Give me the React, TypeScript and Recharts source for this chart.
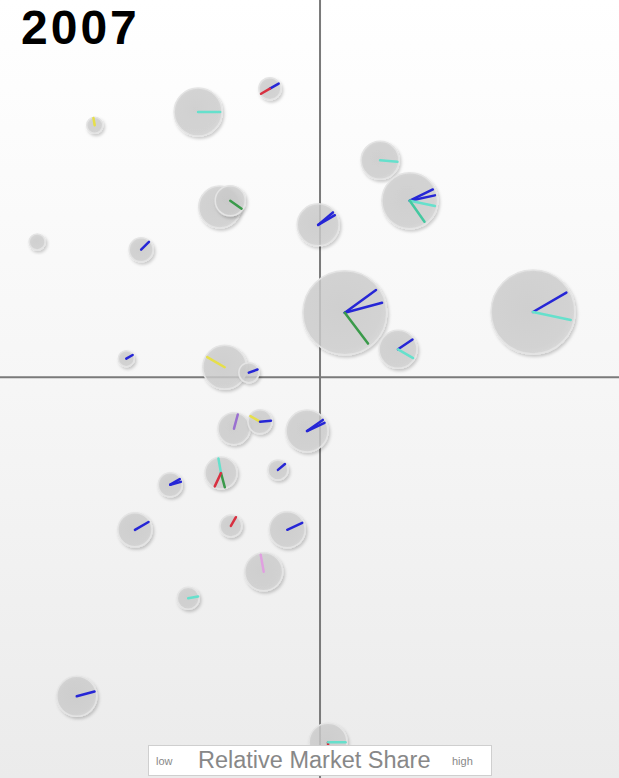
import React from "react";
import { ScatterChart, Scatter, XAxis, YAxis, ZAxis, ReferenceLine } from "recharts";

// relative market share (x), market growth (y), sales (bubble area)
const share = [43.6, 32.0, 15.3, 61.4, 66.2, 35.5, 37.2, 51.4, 6.0, 22.8, 55.7, 86.1, 64.3, 20.4, 36.3, 40.2, 37.8, 42.0, 49.6, 35.7, 44.9, 27.5, 21.8, 37.3, 46.4, 42.6, 30.4, 12.4, 53.0];
const growth = [88.6, 85.6, 83.9, 79.4, 74.2, 73.4, 74.2, 71.1, 68.9, 67.9, 59.8, 59.9, 55.1, 53.9, 52.8, 52.1, 44.9, 45.8, 44.6, 39.2, 39.6, 37.7, 31.9, 32.4, 31.9, 26.5, 23.1, 10.5, 4.6];
const sales = [6.1, 28.8, 3.2, 18, 39, 22, 11.3, 22, 3.2, 7.2, 88, 88, 18, 3.2, 24, 5, 12.8, 7.2, 22, 12.8, 5, 7.2, 14.5, 6, 16.2, 18, 6, 20, 18];
// product lines inside each unit: [angle in degrees, colour code]
const hands: [number, string][][] = [
  [[30, "B"], [210, "R"]],
  [[0, "C"]],
  [[100, "Y"]],
  [[-5, "C"]],
  [[26, "B"], [12, "B"], [-12, "C"], [-55, "T"]],
  [],
  [[-35, "G"]],
  [[30, "B"], [40, "B"]],
  [],
  [[45, "B"]],
  [[36, "B"], [15, "B"], [-53, "G"]],
  [[30, "B"], [-12, "C"]],
  [[34, "B"], [-30, "C"]],
  [[30, "B"]],
  [[150, "Y"]],
  [[20, "B"]],
  [[75, "P"]],
  [[150, "Y"], [5, "B"]],
  [[25, "B"], [35, "B"]],
  [[-75, "G"], [100, "C"], [-115, "R"]],
  [[40, "B"]],
  [[30, "B"], [15, "B"]],
  [[30, "B"]],
  [[60, "R"]],
  [[25, "B"]],
  [[100, "K"]],
  [[10, "C"]],
  [[15, "B"]],
  [[-90, "R"], [0, "C"]],
];

const INK: Record<string, string> = {
  B: "#2626d6",
  C: "#66e0cc",
  T: "#44c8a0",
  G: "#3a9a4a",
  R: "#d83040",
  Y: "#e6df4a",
  P: "#9a70d0",
  K: "#e0a0e0",
};

const units = share.map((x, i) => ({ x, y: growth[i], z: sales[i], hands: hands[i] }));

function Bubble(props: any) {
  const { cx, cy, width, payload } = props;
  const r = width / 2;
  return (
    <g>
      <circle cx={cx} cy={cy} r={r} fill="url(#bub)" stroke="#e4e4e4" strokeWidth={1.5} fillOpacity={0.8} filter="url(#shade)" />
      {payload.hands.map(([a, c]: [number, string], i: number) => {
        const t = (a * Math.PI) / 180;
        return (
          <line
            key={i}
            x1={cx}
            y1={cy}
            x2={cx + Math.cos(t) * r * 0.92}
            y2={cy - Math.sin(t) * r * 0.92}
            stroke={INK[c]}
            strokeWidth={2.5}
            strokeLinecap="round"
          />
        );
      })}
    </g>
  );
}

export default function App() {
  return (
    <div
      style={{
        position: "absolute",
        left: 0,
        top: 0,
        width: 619,
        height: 778,
        overflow: "hidden",
        background: "linear-gradient(#ffffff, #f6f6f6 50%, #ebebeb)",
        fontFamily: "Arial, 'Liberation Sans', sans-serif",
      }}
    >
      <svg width={0} height={0} style={{ position: "absolute" }}>
        <defs>
          <radialGradient id="bub" cx="45%" cy="45%" r="60%">
            <stop offset="0%" stopColor="#cbcbcb" />
            <stop offset="80%" stopColor="#cfcfcf" />
            <stop offset="100%" stopColor="#d8d8d8" />
          </radialGradient>
          <filter id="shade" x="-30%" y="-30%" width="160%" height="160%">
            <feDropShadow dx={1.5} dy={2} stdDeviation={1.5} floodColor="#000" floodOpacity={0.22} />
          </filter>
        </defs>
      </svg>
      <ScatterChart width={619} height={778} margin={{ top: 0, right: 0, bottom: 0, left: 0 }}>
        <XAxis type="number" dataKey="x" domain={[0, 100]} hide />
        <YAxis type="number" dataKey="y" domain={[0, 100]} hide />
        <ZAxis type="number" dataKey="z" domain={[0, 100]} range={[0, 2000 * Math.PI]} />
        <ReferenceLine x={51.7} stroke="#7a7a7a" strokeWidth={2} />
        <ReferenceLine y={51.5} stroke="#7a7a7a" strokeWidth={2} />
        <Scatter data={units} shape={Bubble} isAnimationActive={false} />
      </ScatterChart>
      <div
        style={{
          position: "absolute",
          left: 21,
          top: 0,
          fontSize: 48,
          lineHeight: "normal",
          letterSpacing: 3,
          fontWeight: "bold",
          color: "#000",
        }}
      >
        2007
      </div>
      <div
        style={{
          position: "absolute",
          left: 148,
          top: 745,
          width: 342,
          height: 29,
          background: "#fff",
          border: "1px solid #cfcfcf",
          color: "#888",
        }}
      >
        <span style={{ position: "absolute", left: 7, top: 9, fontSize: 11 }}>low</span>
        <span style={{ position: "absolute", left: 49, top: 1, fontSize: 23.5 }}>Relative Market Share</span>
        <span style={{ position: "absolute", left: 303, top: 9, fontSize: 11 }}>high</span>
      </div>
    </div>
  );
}
